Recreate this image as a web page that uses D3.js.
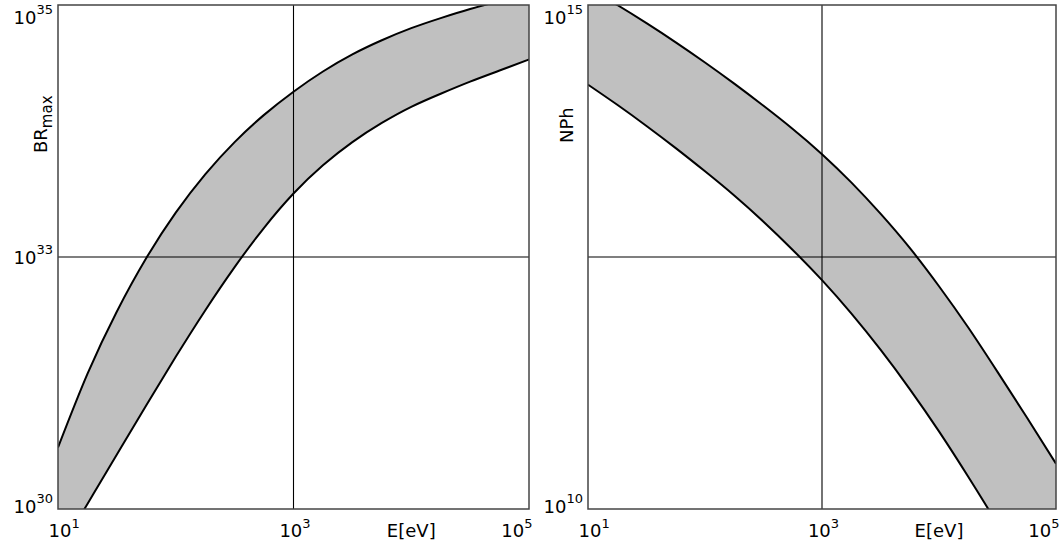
<!DOCTYPE html>
<html><head><meta charset="utf-8">
<script src="https://cdn.jsdelivr.net/npm/d3@7"></script>
<style>
body{margin:0;background:#fff}
svg{display:block}
text{font-family:"DejaVu Sans",Verdana,sans-serif;fill:#000}
</style>
</head><body>
<svg id="c" width="1064" height="548"></svg>
<script>
// Energy sample points, log10(E[eV])
const energyExp = [1,1.25,1.5,1.75,2,2.25,2.5,2.75,3,3.25,3.5,3.75,4,4.25,4.5,4.75,5];
// BR_max band, log10 values (upper and lower edges)
const brUpperExp = [30.61,31.34,31.96,32.49,32.94,33.32,33.64,33.91,34.14,34.34,34.51,34.65,34.77,34.87,34.96,35.04,35.12];
const brLowerExp = [29.56,30.05,30.54,31.03,31.51,31.97,32.40,32.79,33.13,33.41,33.64,33.83,33.99,34.12,34.24,34.35,34.46];
// NPh band, log10 values (upper and lower edges)
const nphUpperExp = [15.17,15.00,14.82,14.63,14.43,14.22,14.00,13.77,13.52,13.24,12.93,12.59,12.21,11.80,11.36,10.91,10.45];
const nphLowerExp = [14.21,14.01,13.80,13.58,13.35,13.11,12.85,12.57,12.27,11.94,11.58,11.19,10.77,10.32,9.85,9.36,8.86];
// ticks
const xTickExp = [1,3,5];
const xTickLabels = ["1","3","5"];
const brTickExp = [30,32.5,35];
const brTickLabels = ["30","33","35"];
const nphTickExp = [10,12.5,15];
const nphTickLabels = ["10","","15"];

const svg = d3.select("#c");

function panel(cfg){
  const x = d3.scaleLog().domain([10**1,10**5]).range([cfg.x0,cfg.x1]);
  const y = d3.scaleLog().domain([10**cfg.yMinExp,10**cfg.yMaxExp]).range([cfg.y1,cfg.y0]);
  const g = svg.append("g");
  const id = "clip"+cfg.name;
  svg.append("clipPath").attr("id",id).append("rect")
    .attr("x",cfg.x0).attr("y",cfg.y0).attr("width",cfg.x1-cfg.x0).attr("height",cfg.y1-cfg.y0);
  const data = energyExp.map((e,i)=>({E:10**e, hi:10**cfg.upper[i], lo:10**cfg.lower[i]}));
  const curve = d3.curveNatural;
  const area = d3.area().x(d=>x(d.E)).y0(d=>y(d.lo)).y1(d=>y(d.hi)).curve(curve);
  const lineHi = d3.line().x(d=>x(d.E)).y(d=>y(d.hi)).curve(curve);
  const lineLo = d3.line().x(d=>x(d.E)).y(d=>y(d.lo)).curve(curve);
  const cg = g.append("g").attr("clip-path",`url(#${id})`);
  cg.append("path").datum(data).attr("d",area).attr("fill","#c0c0c0");
  // grid lines (middle ticks)
  cg.append("line").attr("x1",x(10**3)).attr("x2",x(10**3)).attr("y1",cfg.y0).attr("y2",cfg.y1)
    .attr("stroke","#000").attr("stroke-width",1.1);
  cg.append("line").attr("x1",cfg.x0).attr("x2",cfg.x1).attr("y1",y(10**cfg.yTicks[1])).attr("y2",y(10**cfg.yTicks[1]))
    .attr("stroke","#000").attr("stroke-width",1.1);
  cg.append("path").datum(data).attr("d",lineHi).attr("fill","none").attr("stroke","#000").attr("stroke-width",2);
  cg.append("path").datum(data).attr("d",lineLo).attr("fill","none").attr("stroke","#000").attr("stroke-width",2);
  // frame
  g.append("rect").attr("x",cfg.x0).attr("y",cfg.y0).attr("width",cfg.x1-cfg.x0).attr("height",cfg.y1-cfg.y0)
    .attr("fill","none").attr("stroke","#444").attr("stroke-width",1.5);

  // x axis
  const xa = g.append("g").attr("transform",`translate(0,${cfg.y1})`)
    .call(d3.axisBottom(x).tickValues(xTickExp.map(e=>10**e)).tickSize(0).tickFormat((d,i)=>""));
  xa.select(".domain").remove();
  xa.selectAll(".tick text").each(function(d,i){
    const t = d3.select(this);
    t.attr("y",28).attr("dy",null).attr("font-size",18).attr("font-family",null);
    if(i===0){t.attr("text-anchor","start").attr("x",-10);}
    else if(i===xTickExp.length-1){t.attr("text-anchor","end").attr("x",3);}
    else {t.attr("text-anchor","middle").attr("x",1);}
    t.append("tspan").text("10");
    t.append("tspan").attr("font-size",13).attr("dy",-9).text(xTickLabels[i]);
  });
  // x title
  g.append("text").attr("x",x(10**4)).attr("y",cfg.y1+28).attr("text-anchor","middle")
    .attr("font-size",18).text("E[eV]");

  // y axis
  const ya = g.append("g").attr("transform",`translate(${cfg.x0},0)`)
    .call(d3.axisLeft(y).tickValues(cfg.yTicks.map(e=>10**e)).tickSize(0).tickFormat(()=>""));
  ya.select(".domain").remove();
  ya.selectAll(".tick text").each(function(d,i){
    const t = d3.select(this);
    const lab = cfg.yLabels[i];
    t.attr("x",-5).attr("dy",null).attr("text-anchor","end").attr("font-size",18).attr("font-family",null);
    const off = i===cfg.yTicks.length-1 ? 18 : (i===0 ? 3 : 6);
    t.attr("y",off);
    if(lab!==""){
      t.append("tspan").text("10");
      t.append("tspan").attr("font-size",13).attr("dy",-10).text(lab);
    }
  });
  cfg.title(g);
}

panel({name:"L",x0:58,x1:529,y0:5,y1:509,yMinExp:30,yMaxExp:35,
  upper:brUpperExp,lower:brLowerExp,yTicks:brTickExp,yLabels:brTickLabels,
  title:(g)=>{
    const t = g.append("text").attr("transform","translate(47,153) rotate(-90)").attr("font-size",18);
    t.append("tspan").text("BR");
    t.append("tspan").attr("font-size",15).attr("dy",5).text("max");
  }});
panel({name:"R",x0:588,x1:1056,y0:5,y1:509,yMinExp:10,yMaxExp:15,
  upper:nphUpperExp,lower:nphLowerExp,yTicks:nphTickExp,yLabels:nphTickLabels,
  title:(g)=>{
    g.append("text").attr("transform","translate(573,143) rotate(-90)").attr("font-size",18).text("NPh");
  }});
</script>
</body></html>
